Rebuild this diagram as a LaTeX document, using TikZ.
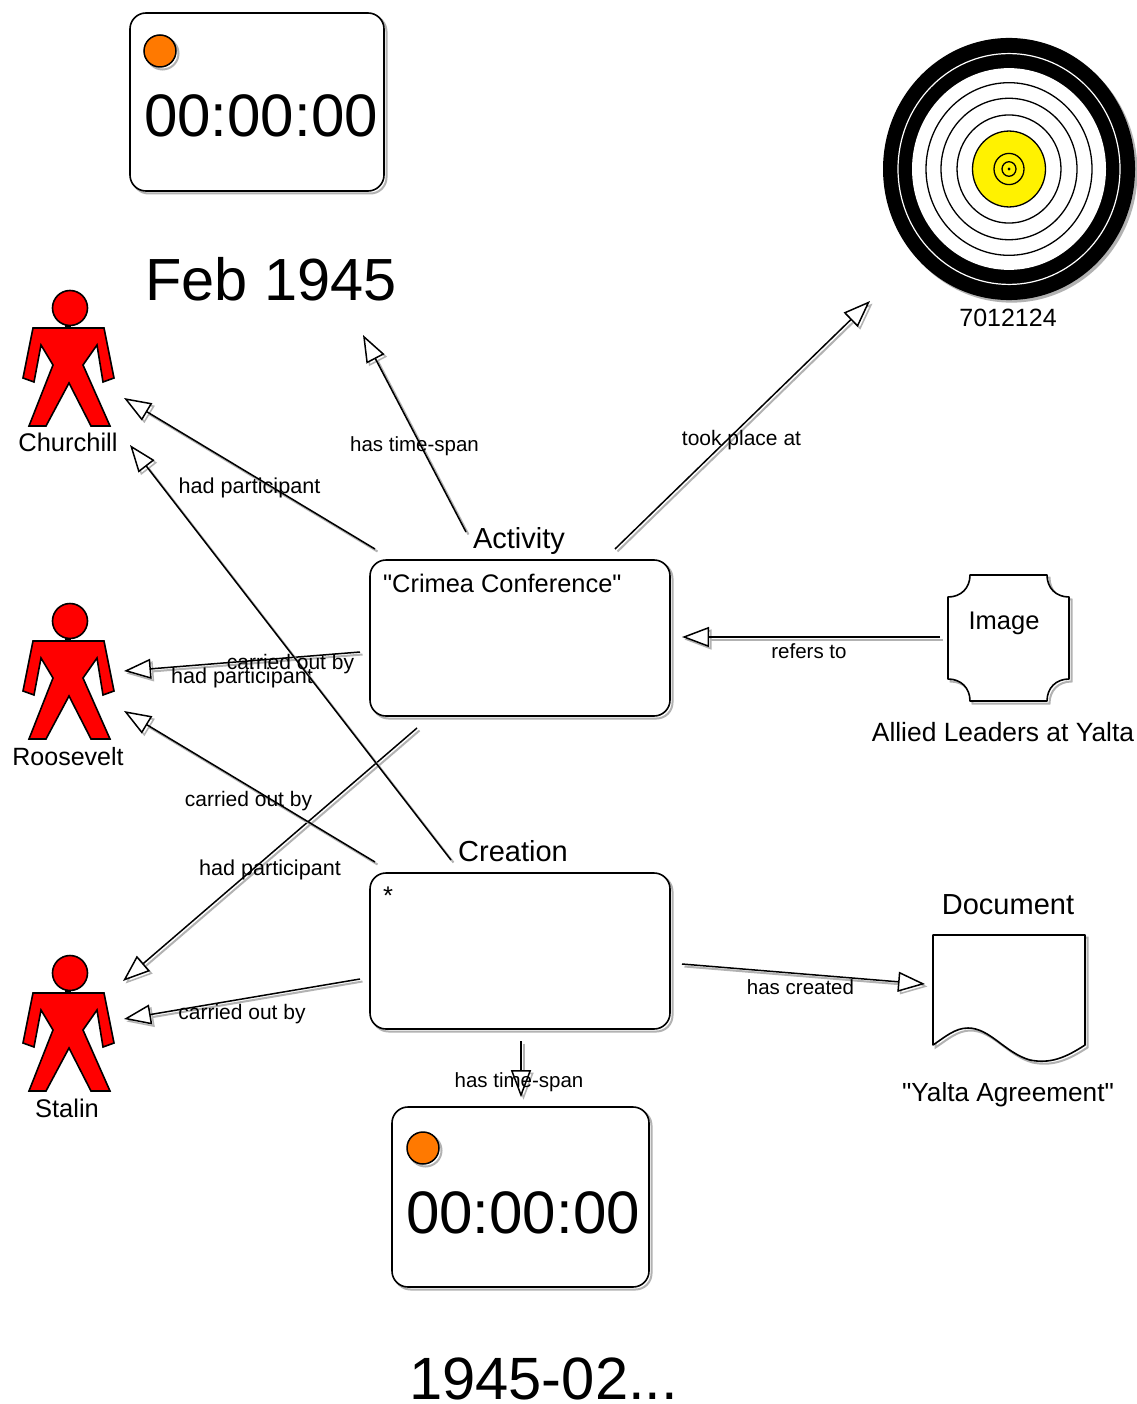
\documentclass[tikz,border=0pt]{standalone}
\usepackage{fontspec}
\setmainfont{Liberation Sans}
\newfontfamily\plainfont{Liberation Sans}
\usetikzlibrary{arrows.meta,calc}
\newcommand{\fs}[1]{\fontsize{#1}{#1}\selectfont}
\tikzset{
  x=1pt,y=-1pt,
  shad/.style={preaction={draw=black!30,line width=2pt,transform canvas={shift={(2.5pt,-2.5pt)}}}},
  shapeline/.style={draw=black,line width=1.6pt,fill=white,line join=round,shad},
  rbox/.style={draw=black,line width=1.6pt,fill=white,rounded corners=16pt,inner sep=0pt,anchor=center,
    preaction={draw=black!30,line width=2pt,transform canvas={shift={(2.5pt,-2.5pt)}}}},
  ghost/.style={inner sep=0pt,outer sep=0pt,draw=none},
  rel/.style={draw=black,line width=1.5pt,shad,
    -{Triangle[open,fill=white,length=27pt,width=20pt,line width=1.5pt]}},
  rellab/.style={font=\fs{20.5},inner sep=0pt,text=black},
  widelab/.style={font=\fs{21.6},inner sep=0pt,text=black},
  midlab/.style={font=\fs{21},inner sep=0pt,text=black},
  bigtxt/.style={font=\fs{60},inner sep=0pt,anchor=base west,text=black},
  titletxt/.style={font=\fs{29},inner sep=0pt,text=black},
  captxt/.style={font=\fs{25.5},inner sep=0pt,text=black},
  longcap/.style={font=\fs{26.4},inner sep=0pt,text=black},
  dotmark/.style={draw=black,line width=1.5pt,fill=orange!95!red,shad},
  manfill/.style={draw=black,line width=1.6pt,fill=red,line join=miter},
  pics/man/.style={code={
    \fill[black] (-3,-38) rectangle (3,-28);
    \draw[manfill] (2,-50) circle[radius=17.5];
    \draw[manfill] (-35,-30) -- (-45,20) -- (-34,24) -- (-27,-13) -- (-15,7) -- (-39,68) -- (-22,68)
      -- (1,25) -- (23,68) -- (42,68) -- (15,7) -- (29,-13) -- (35,24) -- (46,20) -- (36,-30) -- cycle;
  }},
}
\begin{document}
\begin{tikzpicture}
\useasboundingbox (0,0) rectangle (1136,1404);
\fill[white] (0,0) rectangle (1136,1404);

% clocks
\node[rbox,minimum width=254pt,minimum height=178pt] (clockA) at (257,102) {};
\draw[dotmark] (160,51) circle[radius=16];
\node[bigtxt] (clockAt) at (144,137) {00:00:00};
\node[bigtxt,font=\fs{59.5}] (feb) at (145,301) {Feb 1945};
\coordinate (febtip) at (363,335);

\node[rbox,minimum width=257pt,minimum height=180pt] (clockB) at (520.5,1197) {};
\draw[dotmark] (423,1148) circle[radius=16];
\node[bigtxt] (clockBt) at (406,1233) {00:00:00};
\node[bigtxt,font=\fs{59.7}] (dateB) at (409,1399) {1945-02...};

% target
\node[ghost,minimum size=252pt,circle] (targ) at (1009,169) {};
\begin{scope}[shift={(1009,169)},yscale=1.04]
\fill[black!30] (2.5,2.5) circle[radius=126];
\fill[black] (0,0) circle[radius=126];
\draw[white,line width=1.2pt] (0,0) circle[radius=111];
\fill[white] (0,0) circle[radius=97];
\draw[black,line width=1.3pt] (0,0) circle[radius=83];
\draw[black,line width=1.3pt] (0,0) circle[radius=68];
\draw[black,line width=1.3pt] (0,0) circle[radius=52];
\draw[black,line width=1.3pt,fill=yellow] (0,0) circle[radius=36.5];
\draw[black,line width=1.3pt] (0,0) circle[radius=15];
\draw[black,line width=1.3pt] (0,0) circle[radius=7];
\fill[black] (0,0) circle[radius=1.5];
\end{scope}
\node[captxt,font=\fs{25}] (targl) at (1008,318) {7012124};

% people
\node[ghost,minimum width=92pt,minimum height=136pt] (church) at (68,358) {};
\pic at (68,358) {man};
\node[captxt] (churchl) at (68,442) {Churchill};
\node[ghost,minimum width=92pt,minimum height=136pt] (roos) at (68,671) {};
\pic at (68,671) {man};
\node[captxt,font=\fs{25}] (roosl) at (68,757) {Roosevelt};
\node[ghost,minimum width=92pt,minimum height=136pt] (stal) at (68,1023) {};
\pic at (68,1023) {man};
\node[captxt] (stall) at (67,1108) {Stalin};

% activity and creation boxes
\node[rbox,minimum width=300pt,minimum height=156pt] (act) at (520,638) {};
\node[titletxt] (actt) at (519,541) {Activity};
\node[captxt,font=\plainfont\fs{25.4},anchor=base west] (actn) at (383,592) {"Crimea Conference"};
\node[rbox,minimum width=300pt,minimum height=156pt] (cre) at (520,951) {};
\node[titletxt] (cret) at (513,851) {Creation};
\node[captxt,anchor=base west] (cren) at (383,904) {*};

% image
\node[ghost,minimum width=121pt,minimum height=126pt] (img) at (1008,638) {};
\path[shapeline] (970,575) -- (1047,575) .. controls (1047,588) and (1056,597) .. (1069,597)
  -- (1069,679) .. controls (1056,679) and (1047,688) .. (1047,701)
  -- (970,701) .. controls (970,688) and (961,679) .. (948,679)
  -- (948,597) .. controls (961,597) and (970,588) .. (970,575) -- cycle;
\node[captxt] (imgt) at (1004,623) {Image};
\node[longcap] (imgl) at (1003,732) {Allied Leaders at Yalta};

% document
\node[ghost,minimum width=152pt,minimum height=130pt] (doc) at (1009,1000) {};
\path[shapeline] (933,935) -- (1085,935) -- (1085,1045)
  .. controls (1065,1058) and (1050,1064) .. (1030,1060)
  .. controls (1005,1053) and (990,1028) .. (968,1028)
  .. controls (955,1028) and (945,1037) .. (933,1045) -- cycle;
\node[titletxt] (doct) at (1008,905) {Document};
\node[longcap,font=\plainfont\fs{26.2}] (docl) at (1008,1095) {"Yalta Agreement"};

% connectors
\draw[rel] ($(act)+(-54,-106)$) -- node[rellab,pos=.5,yshift=-13pt] (l1) {has time-span} (febtip);
\draw[rel] ($(act)+(95,-89)$) -- node[midlab,pos=.5,yshift=-15pt,xshift=-1pt] (l2) {took place at} ($(targ)+(-139,132)$);
\draw[rel] ($(act)+(-145,-89)$) -- node[widelab,pos=.5,yshift=-14pt] (l3) {had participant} ($(church)+(56,40)$);
\draw[rel] ($(act)+(-160,14)$) -- node[widelab,pos=.5,yshift=-16pt] (l4) {had participant} ($(roos)+(56,0)$);
\draw[rel] ($(act)+(-103,90)$) -- node[widelab,pos=.5,yshift=-15pt] (l5) {had participant} ($(stal)+(55,-42)$);
\draw[rel] ($(img)+(-68,-1)$) -- node[rellab,pos=.5,yshift=-14pt,xshift=-2pt] (l6) {refers to} ($(act)+(162,-1)$);
\draw[rel] ($(cre)+(-69,-91)$) -- node[midlab,pos=.5,yshift=-12pt] (l7) {carried out by} ($(church)+(62,87)$);
\draw[rel] ($(cre)+(-145,-89)$) -- node[midlab,pos=.5,yshift=-15pt,xshift=-1pt] (l8) {carried out by} ($(roos)+(56,40)$);
\draw[rel] ($(cre)+(-160,28)$) -- node[midlab,pos=.5,yshift=-15pt] (l9) {carried out by} ($(stal)+(56,-4)$);
\draw[rel] ($(cre)+(162,13)$) -- node[rellab,pos=.5,yshift=-13pt,xshift=-3pt] (l10) {has created} ($(doc)+(-84,-16)$);
\draw[rel] ($(cre)+(1,90)$) -- node[rellab,pos=.68,xshift=-2pt,yshift=-3pt] (l11) {has time-span} ($(clockB.north)+(0.5,-9)$);
\end{tikzpicture}
\end{document}
